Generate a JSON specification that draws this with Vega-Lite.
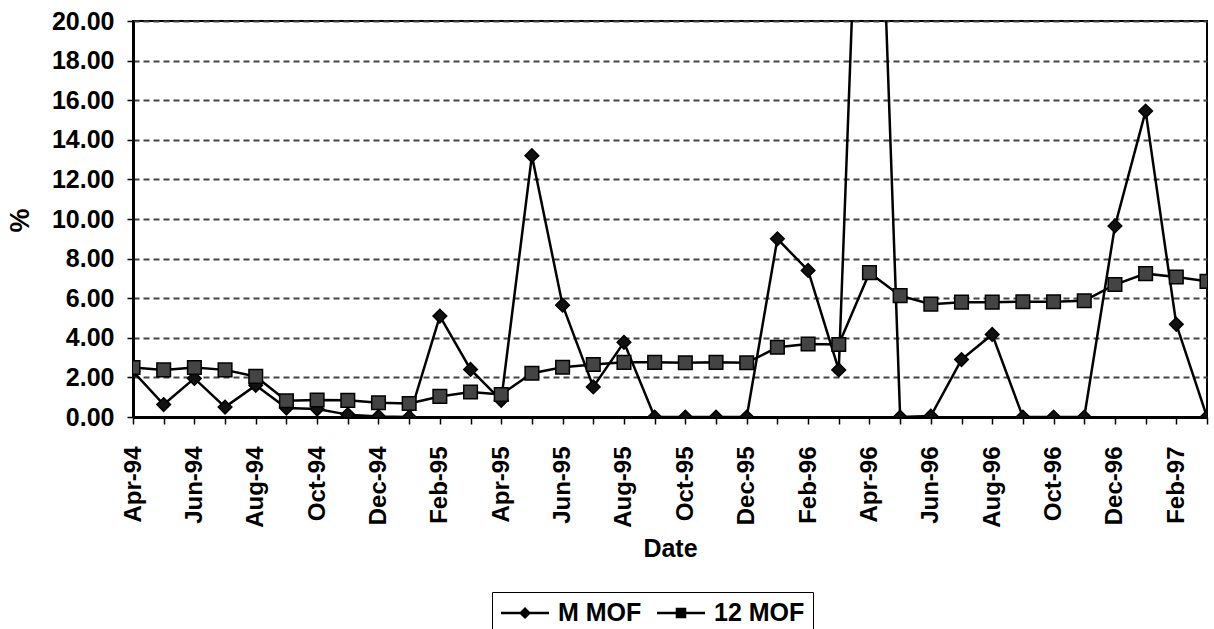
{
  "$schema": "https://vega.github.io/schema/vega-lite/v6.json",
  "autosize": "none",
  "width": 1074,
  "height": 396,
  "padding": {"left": 133, "top": 21, "right": 7, "bottom": 212},
  "background": "white",
  "config": {
    "font": "Liberation Sans",
    "view": {"stroke": "black", "strokeWidth": 2},
    "mark": {"color": "black"}
  },
  "data": {
    "values": [
      {"month": "Apr-94", "series": "M MOF", "value": 2.3},
      {"month": "May-94", "series": "M MOF", "value": 0.63},
      {"month": "Jun-94", "series": "M MOF", "value": 1.95},
      {"month": "Jul-94", "series": "M MOF", "value": 0.5},
      {"month": "Aug-94", "series": "M MOF", "value": 1.6},
      {"month": "Sep-94", "series": "M MOF", "value": 0.45},
      {"month": "Oct-94", "series": "M MOF", "value": 0.4},
      {"month": "Nov-94", "series": "M MOF", "value": 0.12},
      {"month": "Dec-94", "series": "M MOF", "value": 0.03},
      {"month": "Jan-95", "series": "M MOF", "value": 0.0},
      {"month": "Feb-95", "series": "M MOF", "value": 5.1},
      {"month": "Mar-95", "series": "M MOF", "value": 2.4},
      {"month": "Apr-95", "series": "M MOF", "value": 0.84},
      {"month": "May-95", "series": "M MOF", "value": 13.2},
      {"month": "Jun-95", "series": "M MOF", "value": 5.65},
      {"month": "Jul-95", "series": "M MOF", "value": 1.52},
      {"month": "Aug-95", "series": "M MOF", "value": 3.77},
      {"month": "Sep-95", "series": "M MOF", "value": 0.0},
      {"month": "Oct-95", "series": "M MOF", "value": 0.0},
      {"month": "Nov-95", "series": "M MOF", "value": 0.0},
      {"month": "Dec-95", "series": "M MOF", "value": 0.0},
      {"month": "Jan-96", "series": "M MOF", "value": 9.0},
      {"month": "Feb-96", "series": "M MOF", "value": 7.4},
      {"month": "Mar-96", "series": "M MOF", "value": 2.38},
      {"month": "Apr-96", "series": "M MOF", "value": 44.0},
      {"month": "May-96", "series": "M MOF", "value": 0.0},
      {"month": "Jun-96", "series": "M MOF", "value": 0.05},
      {"month": "Jul-96", "series": "M MOF", "value": 2.9},
      {"month": "Aug-96", "series": "M MOF", "value": 4.17},
      {"month": "Sep-96", "series": "M MOF", "value": 0.0},
      {"month": "Oct-96", "series": "M MOF", "value": 0.0},
      {"month": "Nov-96", "series": "M MOF", "value": 0.0},
      {"month": "Dec-96", "series": "M MOF", "value": 9.65},
      {"month": "Jan-97", "series": "M MOF", "value": 15.45},
      {"month": "Feb-97", "series": "M MOF", "value": 4.68},
      {"month": "Mar-97", "series": "M MOF", "value": 0.0},
      {"month": "Apr-94", "series": "12 MOF", "value": 2.5},
      {"month": "May-94", "series": "12 MOF", "value": 2.38},
      {"month": "Jun-94", "series": "12 MOF", "value": 2.5},
      {"month": "Jul-94", "series": "12 MOF", "value": 2.38},
      {"month": "Aug-94", "series": "12 MOF", "value": 2.05},
      {"month": "Sep-94", "series": "12 MOF", "value": 0.82},
      {"month": "Oct-94", "series": "12 MOF", "value": 0.86},
      {"month": "Nov-94", "series": "12 MOF", "value": 0.84},
      {"month": "Dec-94", "series": "12 MOF", "value": 0.72},
      {"month": "Jan-95", "series": "12 MOF", "value": 0.68},
      {"month": "Feb-95", "series": "12 MOF", "value": 1.04},
      {"month": "Mar-95", "series": "12 MOF", "value": 1.26},
      {"month": "Apr-95", "series": "12 MOF", "value": 1.14},
      {"month": "May-95", "series": "12 MOF", "value": 2.21},
      {"month": "Jun-95", "series": "12 MOF", "value": 2.51},
      {"month": "Jul-95", "series": "12 MOF", "value": 2.65},
      {"month": "Aug-95", "series": "12 MOF", "value": 2.76},
      {"month": "Sep-95", "series": "12 MOF", "value": 2.76},
      {"month": "Oct-95", "series": "12 MOF", "value": 2.74},
      {"month": "Nov-95", "series": "12 MOF", "value": 2.76},
      {"month": "Dec-95", "series": "12 MOF", "value": 2.74},
      {"month": "Jan-96", "series": "12 MOF", "value": 3.52},
      {"month": "Feb-96", "series": "12 MOF", "value": 3.69},
      {"month": "Mar-96", "series": "12 MOF", "value": 3.66},
      {"month": "Apr-96", "series": "12 MOF", "value": 7.29},
      {"month": "May-96", "series": "12 MOF", "value": 6.13},
      {"month": "Jun-96", "series": "12 MOF", "value": 5.7},
      {"month": "Jul-96", "series": "12 MOF", "value": 5.8},
      {"month": "Aug-96", "series": "12 MOF", "value": 5.8},
      {"month": "Sep-96", "series": "12 MOF", "value": 5.82},
      {"month": "Oct-96", "series": "12 MOF", "value": 5.82},
      {"month": "Nov-96", "series": "12 MOF", "value": 5.87},
      {"month": "Dec-96", "series": "12 MOF", "value": 6.69},
      {"month": "Jan-97", "series": "12 MOF", "value": 7.24},
      {"month": "Feb-97", "series": "12 MOF", "value": 7.07},
      {"month": "Mar-97", "series": "12 MOF", "value": 6.85}
    ]
  },
  "encoding": {
    "x": {
      "field": "month",
      "type": "ordinal",
      "sort": null,
      "scale": {"type": "point", "padding": 0},
      "axis": {
        "title": "Date",
        "titleFontSize": 25,
        "titleFontWeight": "bold",
        "titleColor": "black",
        "titleY": 131,
        "titleBaseline": "middle",
        "labelAngle": 270,
        "labelFontSize": 24,
        "labelFontWeight": "bold",
        "labelColor": "black",
        "labelPadding": 22,
        "labelExpr": "test(/^(Apr|Jun|Aug|Oct|Dec|Feb)/, datum.value) ? datum.label : ''",
        "labelOverlap": false,
        "domainColor": "black",
        "domainWidth": 3,
        "tickColor": "black",
        "tickWidth": 1.5,
        "tickSize": 7,
        "grid": false
      }
    },
    "y": {
      "field": "value",
      "type": "quantitative",
      "scale": {"domain": [0, 20], "nice": false, "zero": true},
      "axis": {
        "title": "%",
        "titleFontSize": 27,
        "titleFontWeight": "bold",
        "titleColor": "black",
        "titleAngle": 270,
        "titleX": -113,
        "titleY": 199,
        "titleBaseline": "middle",
        "titleAlign": "center",
        "values": [0, 2, 4, 6, 8, 10, 12, 14, 16, 18, 20],
        "format": ".2f",
        "labelFontSize": 25,
        "labelFontWeight": "bold",
        "labelColor": "black",
        "labelPadding": 13,
        "domainColor": "black",
        "domainWidth": 3,
        "tickColor": "black",
        "tickWidth": 1.5,
        "tickSize": 6,
        "grid": true,
        "gridColor": "#444444",
        "gridWidth": 2.2,
        "gridDash": [6, 4]
      }
    }
  },
  "layer": [
    {
      "mark": {"type": "line", "clip": true, "color": "black", "strokeWidth": 2.5},
      "encoding": {"detail": {"field": "series"}}
    },
    {
      "mark": {"type": "point", "clip": true, "filled": true, "size": 185, "stroke": "black", "strokeWidth": 1.5, "opacity": 1},
      "encoding": {
        "shape": {
          "field": "series",
          "type": "nominal",
          "scale": {"domain": ["M MOF", "12 MOF"], "range": ["diamond", "square"]},
          "legend": null
        },
        "fill": {
          "condition": {"test": "datum.series === 'M MOF'", "value": "#111111"},
          "value": "#444444"
        }
      }
    },
    {
      "transform": [{"filter": "false"}],
      "mark": {"type": "point", "filled": true, "opacity": 1},
      "encoding": {
        "shape": {
          "field": "series",
          "type": "nominal",
          "scale": {
            "domain": ["M MOF", "12 MOF"],
            "range": [
              "M-1,-0.05L1,-0.05L1,0.05L-1,0.05ZM-0.25,0L0,-0.25L0.25,0L0,0.25Z",
              "M-1,-0.05L1,-0.05L1,0.05L-1,0.05ZM-0.22,-0.22L0.22,-0.22L0.22,0.22L-0.22,0.22Z"
            ]
          },
          "legend": {
            "orient": "none",
            "legendX": 359,
            "legendY": 571,
            "direction": "horizontal",
            "title": null,
            "strokeColor": "black",
            "padding": 8,
            "clipHeight": 26,
            "labelFont": "Liberation Sans",
            "labelFontSize": 25,
            "labelFontWeight": "bold",
            "labelColor": "black",
            "labelOffset": 8,
            "columnPadding": 14,
            "symbolSize": 2304,
            "symbolOpacity": 1,
            "symbolFillColor": "#1a1a1a",
            "encode": {
              "legend": {"update": {"strokeWidth": {"value": 2}}}
            }
          }
        }
      }
    }
  ],
  "resolve": {"scale": {"shape": "independent"}, "legend": {"shape": "independent"}}
}
